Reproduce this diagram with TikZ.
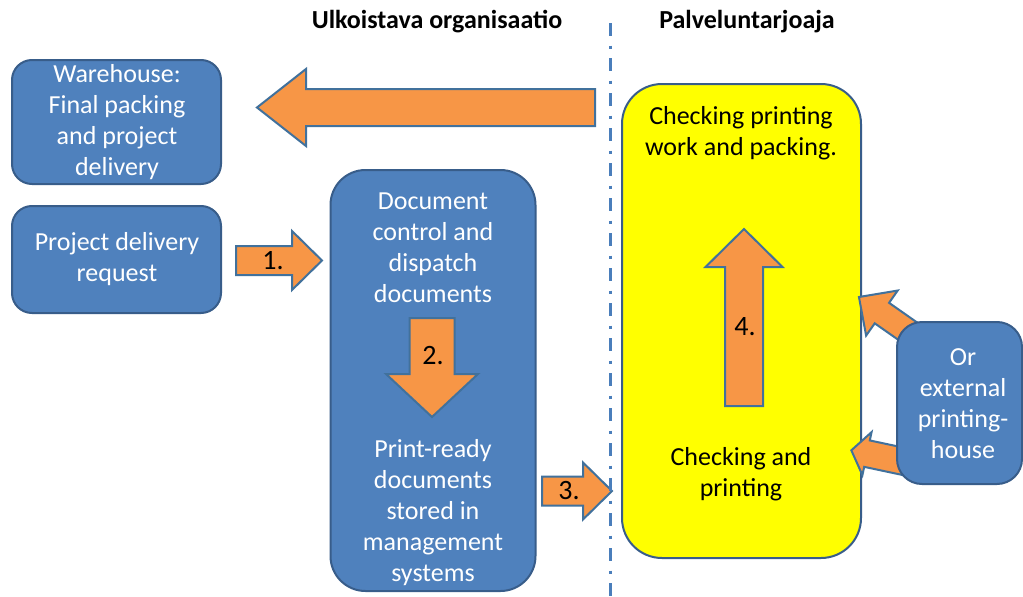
\documentclass[tikz,border=0pt]{standalone}
\usepackage{fontspec}
\setmainfont{Carlito}
\definecolor{boxblue}{HTML}{4F81BD}
\definecolor{boxline}{HTML}{385D8A}
\definecolor{arrorange}{HTML}{F79646}
\definecolor{arrline}{HTML}{41719C}
\definecolor{sepblue}{HTML}{4A7EBB}
\definecolor{yelfill}{HTML}{FFFF00}
\newcommand{\blockarrow}[7]{%
  \begin{scope}[shift={(#1,#2)},rotate=#3]
    \draw[barrow] (0,-#5) -- ({#4-#7},-#5) -- ({#4-#7},-#6) -- (#4,0) -- ({#4-#7},#6) -- ({#4-#7},#5) -- (0,#5) -- cycle;
  \end{scope}}
\tikzset{
  bluebox/.style={draw=boxline, line width=2pt, fill=boxblue, rounded corners=#1, inner sep=0pt},
  bluebox/.default=20pt,
  yelbox/.style={draw=boxline, line width=2pt, fill=yelfill, rounded corners=40pt, inner sep=0pt},
  wtext/.style={text=white, align=center, font=\fontsize{26}{31}\selectfont, inner sep=0pt},
  btext/.style={text=black, align=center, font=\fontsize{26}{31}\selectfont, inner sep=0pt},
  title/.style={text=black, font=\fontsize{26}{31}\selectfont\bfseries, inner sep=0pt},
  numlabel/.style={text=black, font=\fontsize{28}{32}\selectfont, inner sep=0pt},
  barrow/.style={fill=arrorange, draw=arrline, line width=2pt, line join=miter},
  sepline/.style={draw=sepblue, line width=2.6pt, dash pattern=on 12.5pt off 10pt on 3pt off 9.5pt}
}
\begin{document}
\begin{tikzpicture}[x=1pt,y=-1pt]
\useasboundingbox[fill=white] (0,0) rectangle (1023,597);

% titles
\node[title] (t1) at (437,22) {Ulkoistava organisaatio};
\node[title] (t2) at (747,22) {Palveluntarjoaja};

% left boxes
\node[bluebox=20pt, minimum width=209pt, minimum height=124pt] (wh) at (116.5,122) {};
\node[wtext] (whT) at (117,122) {Warehouse:\\Final packing\\and project\\delivery};
\node[bluebox=20pt, minimum width=209pt, minimum height=107pt] (req) at (116.5,259.5) {};
\node[wtext] (reqT) at (117,259) {Project delivery\\request};

% document box
\node[bluebox=35pt, minimum width=205pt, minimum height=421pt] (doc) at (433,380.5) {};
\node[wtext] (docT1) at (433,248) {Document\\control and\\dispatch\\documents};
\node[wtext] (docT2) at (433,513) {Print-ready\\documents\\stored in\\management\\systems};

% arrows 1 and 2
\blockarrow{236}{260.5}{0}{86}{14.5}{29.5}{30}
\node[numlabel] (n1) at (273,261) {1.};
\blockarrow{432}{318}{-90}{99}{22.5}{46}{43}
\node[numlabel] (n2) at (433,356) {2.};

% arrow 3
\blockarrow{542}{491}{0}{70}{14.5}{28.5}{29}
\node[numlabel] (n3) at (569,491) {3.};

% big return arrow
\blockarrow{595}{107.5}{180}{338}{18.5}{38.5}{49}

% yellow box
\node[yelbox, minimum width=239pt, minimum height=474pt] (yel) at (741.5,321) {};
\node[btext] (yelT1) at (741,133) {Checking printing\\work and packing.};
\node[btext] (yelT2) at (741,474) {Checking and\\printing};

% arrow 4
\blockarrow{744}{406}{90}{177}{19}{38.5}{38}
\node[numlabel] (n4) at (745,327) {4.};

% arrows from external printing house
\blockarrow{912.2}{334.3}{145}{65}{12.5}{27.5}{28}
\blockarrow{911}{463}{168}{61}{13.5}{22}{16}

% external box
\node[bluebox=25pt, minimum width=125pt, minimum height=162pt] (ext) at (959.5,403) {};
\node[wtext] (extT) at (963,404) {Or\\external\\printing-\\house};

% separator
\coordinate (sepTop) at (610.5,23);
\coordinate (sepBot) at (610.5,597);
\draw[sepline] (sepTop) -- (sepBot);
\end{tikzpicture}
\end{document}
